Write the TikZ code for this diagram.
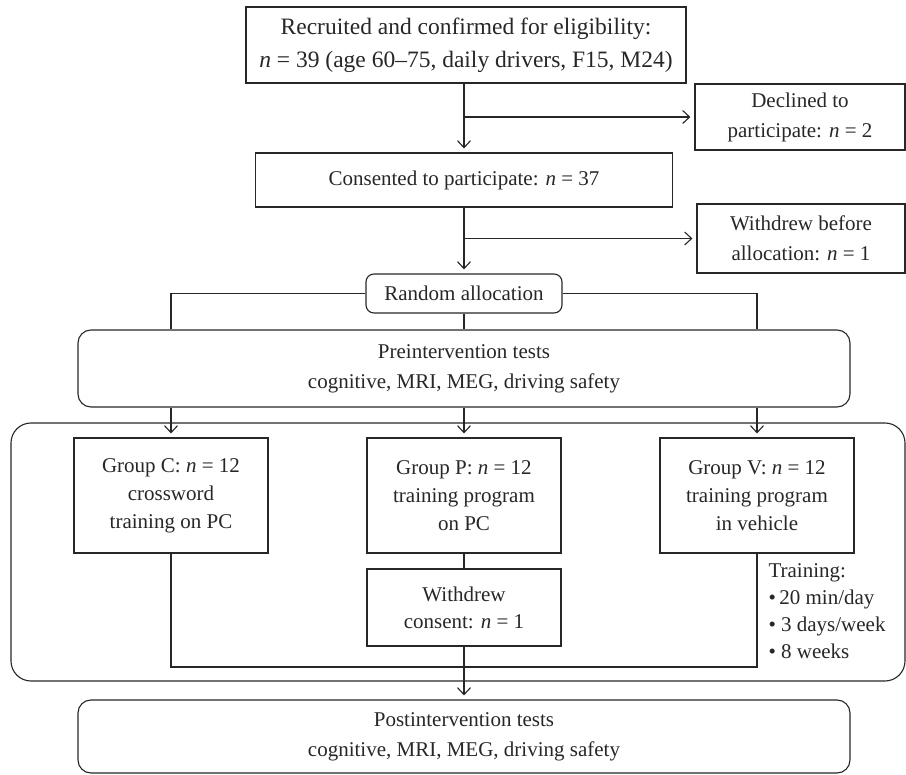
\documentclass[tikz,border=0pt]{standalone}
\usepackage{fontspec}
\setmainfont{Liberation Serif}
\usepackage{xcolor}
\definecolor{ink}{RGB}{40,38,38}
\usetikzlibrary{arrows.meta}

\begin{document}
\begin{tikzpicture}[x=1pt,y=-1pt,line width=1.1pt,color=ink,
  font=\fontsize{21}{30}\selectfont,
  box/.style={draw,rectangle,align=center,inner sep=0pt},
  rbox/.style={box,rounded corners=13pt},
  group/.style={box,minimum width=194,minimum height=115},
  arr/.style={->,shorten >=4pt},
  >={Straight Barb[length=7pt,width=13pt]}]
  \useasboundingbox (0,0) rectangle (906,775);

  \node[box,minimum width=440,minimum height=76,font=\fontsize{23.5}{33}\selectfont] (recruit) at (466,45)
    {Recruited and confirmed for eligibility:\\ \textit{n} = 39 (age 60--75, daily drivers, F15, M24)};
  \node[box,minimum width=210,minimum height=66] (declined) at (800,117)
    {Declined to\\ participate: \textit{n} = 2};
  \node[box,minimum width=417,minimum height=54] (consent) at (464,180)
    {Consented to participate: \textit{n} = 37};
  \node[box,minimum width=208,minimum height=69] (withdrawn) at (801,238.5)
    {Withdrew before\\ allocation: \textit{n} = 1};
  \node[rbox,rounded corners=8pt,minimum width=196,minimum height=39] (random) at (464,293.5)
    {Random allocation};
  \node[rbox,minimum width=772,minimum height=77] (pre) at (464,368.5)
    {Preintervention tests\\ cognitive, MRI, MEG, driving safety};

  \draw[rounded corners=20pt] (11,423) rectangle (905,681);
  \node[group] (gc) at (171,495.5) {Group C: \textit{n} = 12\\[-2pt] crossword\\[-2pt] training on PC};
  \node[group] (gp) at (464,495.5) {Group P: \textit{n} = 12\\[-2pt] training program\\[-2pt] on PC};
  \node[group] (gv) at (757,495.5) {Group V: \textit{n} = 12\\[-2pt] training program\\[-2pt] in vehicle};
  \node[box,minimum width=194,minimum height=77] (wc) at (464,607.5)
    {Withdrew\\[-3pt] consent: \textit{n} = 1};
  \node[align=left,anchor=north west,inner sep=0pt] (plan) at (768,563)
    {Training:\\[-3pt] \textbullet\,20 min/day\\[-3pt] \textbullet\ 3 days/week\\[-3pt] \textbullet\ 8 weeks};
  \coordinate (join) at (464,667);
  \node[rbox,minimum width=772,minimum height=73] (post) at (464,736.5)
    {Postintervention tests\\ cognitive, MRI, MEG, driving safety};

  \path[arr] (recruit.south -| consent) edge (consent)
    (consent) edge (random)
    (wc) edge (post)
    (consent.north |- declined.west) edge (declined)
    (consent.south |- withdrawn.west) edge (withdrawn)
    (gc.north |- pre.south) edge (gc)
    (pre) edge (gp)
    (gv.north |- pre.south) edge (gv);
  \draw (random.west) -| (gc.north |- pre.north);
  \draw (random.east) -| (gv.north |- pre.north);
  \draw (random) -- (pre);
  \draw (gp) -- (wc);
  \draw (gc) |- (join) -| (gv);
\end{tikzpicture}
\end{document}
